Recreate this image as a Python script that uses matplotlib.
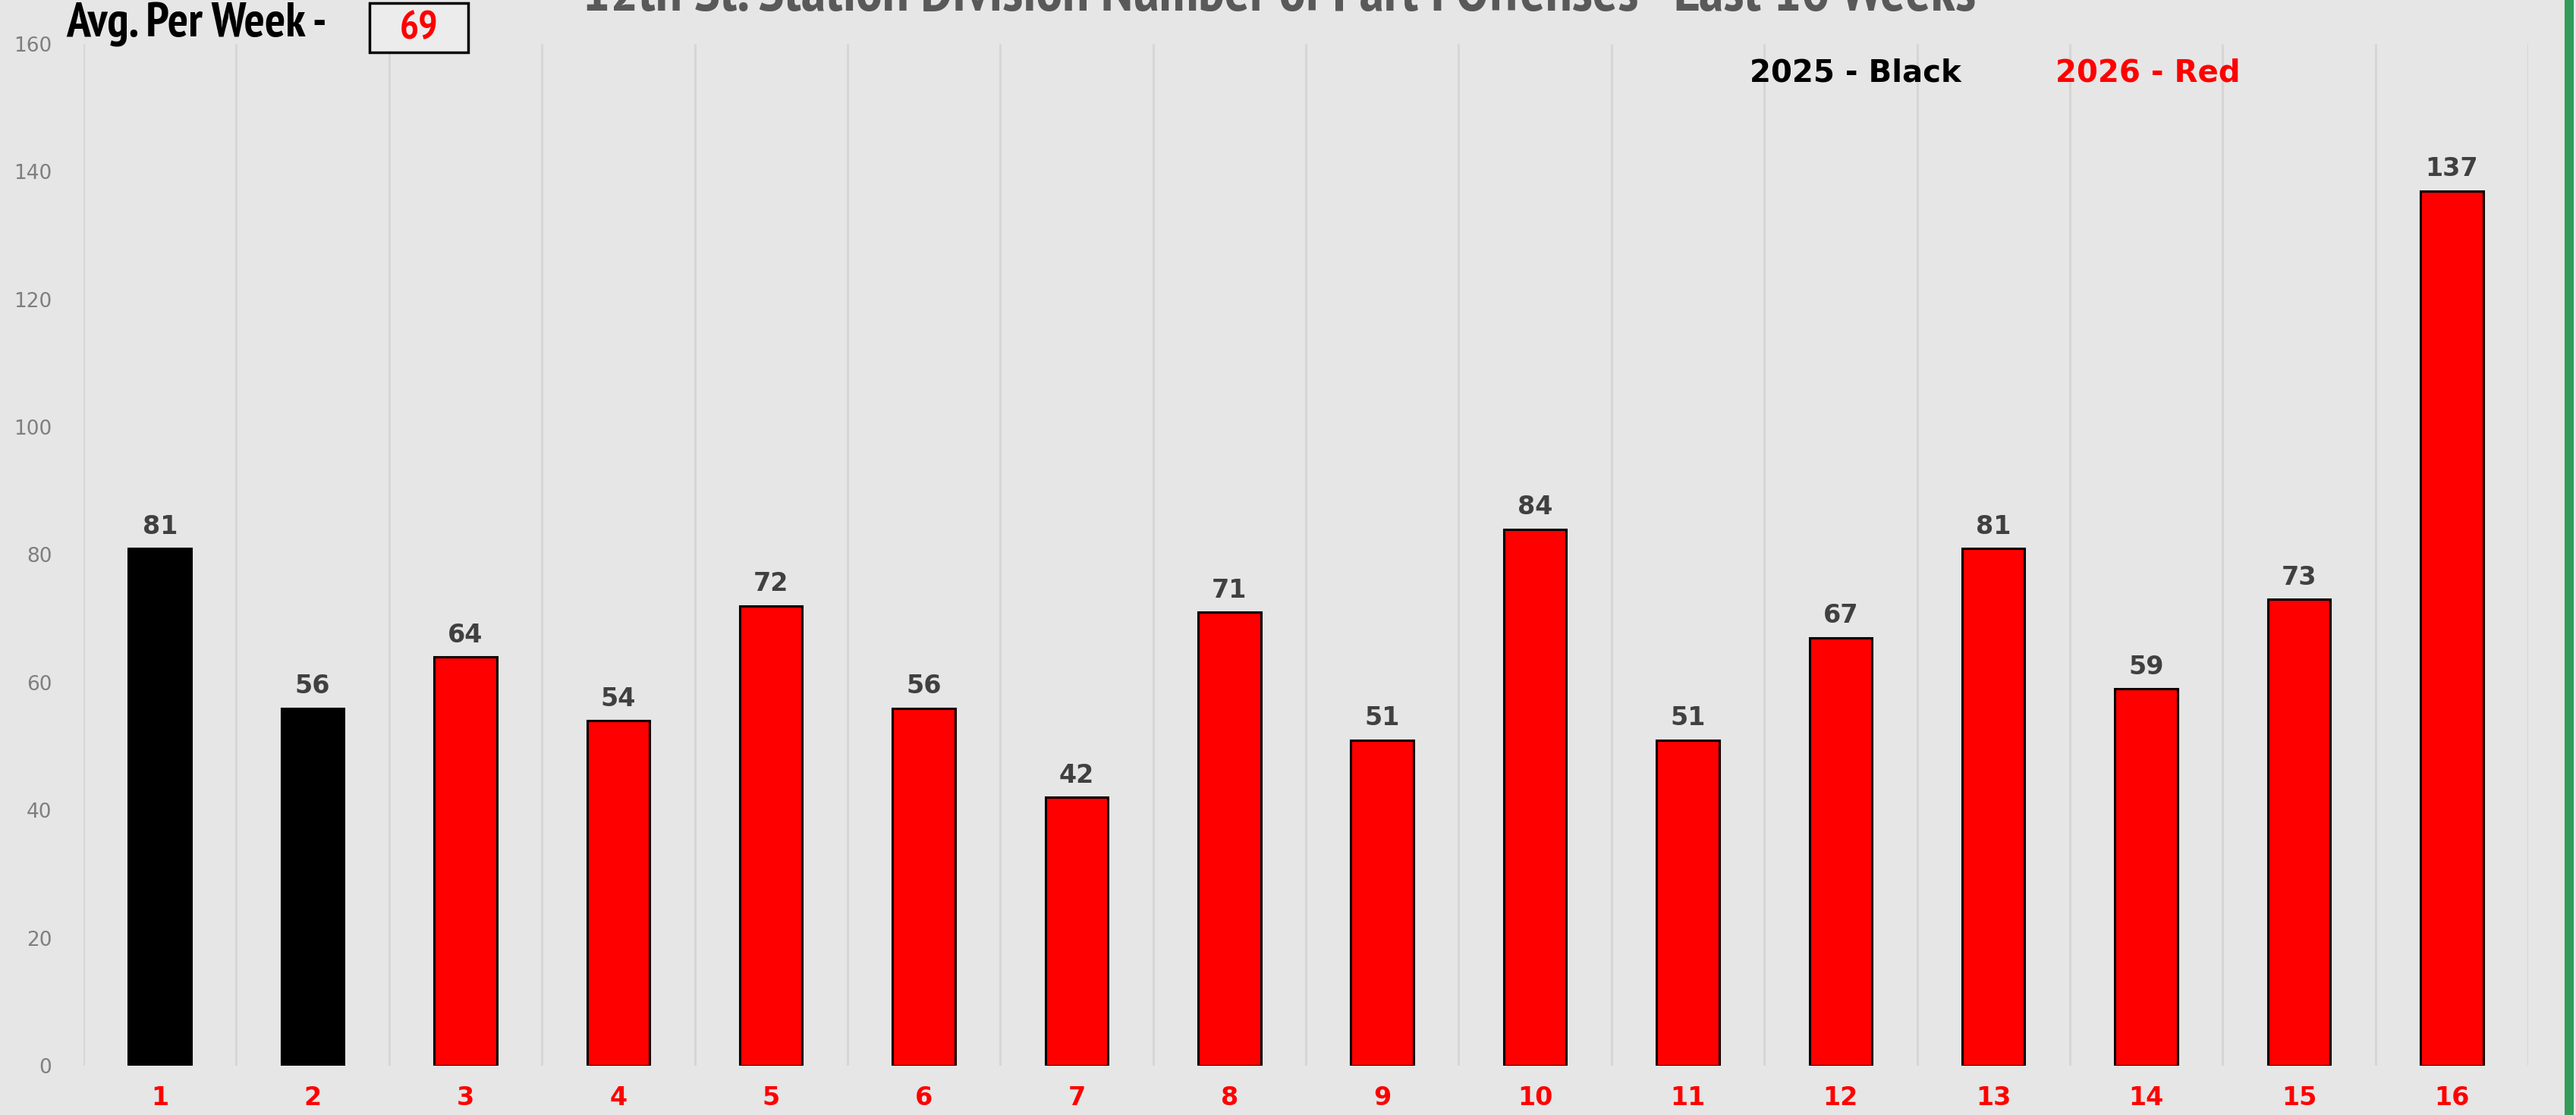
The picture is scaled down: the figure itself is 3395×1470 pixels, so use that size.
import numpy as np
import matplotlib.pyplot as plt
from matplotlib.patches import Rectangle
from matplotlib import font_manager as fm

weeks = list(range(1, 17))
counts = [81, 56, 64, 54, 72, 56, 42, 71, 51, 84, 51, 67, 81, 59, 73, 137]
years = [2025, 2025] + [2026] * 14
year_colors = {2025: 'black', 2026: 'red'}
title = '12th St. Station Division Number of Part I Offenses - Last 16 Weeks'
y_ticks = [0, 20, 40, 60, 80, 100, 120, 140, 160]

bg = '#e6e6e6'

# pick a narrow bold font if one is installed
bold_faces = set(f.name for f in fm.fontManager.ttflist
                 if f.weight in (700, 'bold') and f.style == 'normal')
narrow_name = 'DejaVu Sans'
for cand in ['Liberation Sans Narrow', 'Arial Narrow', 'PT Sans Narrow', 'Pragati Narrow',
             'Archivo Narrow', 'Roboto Condensed', 'Open Sans Condensed',
             'IBM Plex Sans Condensed', 'Encode Sans Condensed', 'Fira Sans Condensed',
             'Barlow Condensed', 'Asap Condensed', 'Sofia Sans Condensed']:
    if cand in bold_faces:
        narrow_name = cand
        break
narrow = [narrow_name, 'DejaVu Sans']

fig = plt.figure(figsize=(33.95, 14.7), dpi=100, facecolor=bg)
ax = fig.add_axes([110 / 3395, 1 - 1405 / 1470, (3332 - 110) / 3395, (1405 - 58) / 1470])
ax.set_facecolor(bg)

colors = [year_colors[y] for y in years]
bars = ax.bar(weeks, counts, width=0.41, color=colors, edgecolor='black', linewidth=2.2, zorder=3)

for b, v in zip(bars, counts):
    ax.annotate(str(v), (b.get_x() + b.get_width() / 2, v), xytext=(0, 9),
                textcoords='offset points', ha='center', va='bottom',
                fontsize=24, fontweight='bold', color='#404040')

# vertical gridlines at category boundaries
for x in np.arange(0.5, 17, 1):
    ax.plot([x, x], [0, 160], color='#d6d6d6', lw=2.2, zorder=1, solid_capstyle='butt')

ax.set_xlim(0.5, 16.5)
ax.set_ylim(0, 160)
ax.set_xticks(weeks)
ax.set_xticklabels([str(w) for w in weeks], color='red', fontweight='bold', fontsize=24)
ax.set_yticks(y_ticks)
ax.set_yticklabels([str(t) for t in y_ticks], color='#7f7f7f', fontsize=19)
ax.tick_params(axis='both', length=0)
ax.tick_params(axis='x', pad=19)
ax.tick_params(axis='y', pad=30)
for s in ax.spines.values():
    s.set_visible(False)

# title, cut off at top like the source
fig.text(0.4965, 1 - 14 / 1470, title, ha='center', va='baseline', fontsize=56,
         fontweight='bold', color='#595959', family=narrow)

# average box
avg = round(sum(counts) / len(counts))
fig.text(87 / 3395, 1 - 48 / 1470, 'Avg. Per Week -', ha='left', va='baseline',
         fontsize=46, fontweight='bold', color='black', family=narrow)
fig.patches.append(Rectangle((487 / 3395, 1 - 69 / 1470), 130 / 3395, 65 / 1470,
                             transform=fig.transFigure, facecolor='#ececec',
                             edgecolor='black', linewidth=2.5))
fig.text(552 / 3395, 1 - 38 / 1470, str(avg), ha='center', va='center',
         fontsize=38, fontweight='bold', color='red', family=narrow)

# legend text
fig.text(2306 / 3395, 1 - 97 / 1470, '2025 - Black', ha='left', va='center',
         fontsize=29, fontweight='bold', color='black')
fig.text(2709 / 3395, 1 - 97 / 1470, '2026 - Red', ha='left', va='center',
         fontsize=29, fontweight='bold', color='red')

# green strip on the right edge
fig.patches.append(Rectangle((3380 / 3395, 0), 12 / 3395, 1, transform=fig.transFigure,
                             facecolor='#339c5a', edgecolor='none'))

fig.savefig('out.png', dpi=100, facecolor=bg)
